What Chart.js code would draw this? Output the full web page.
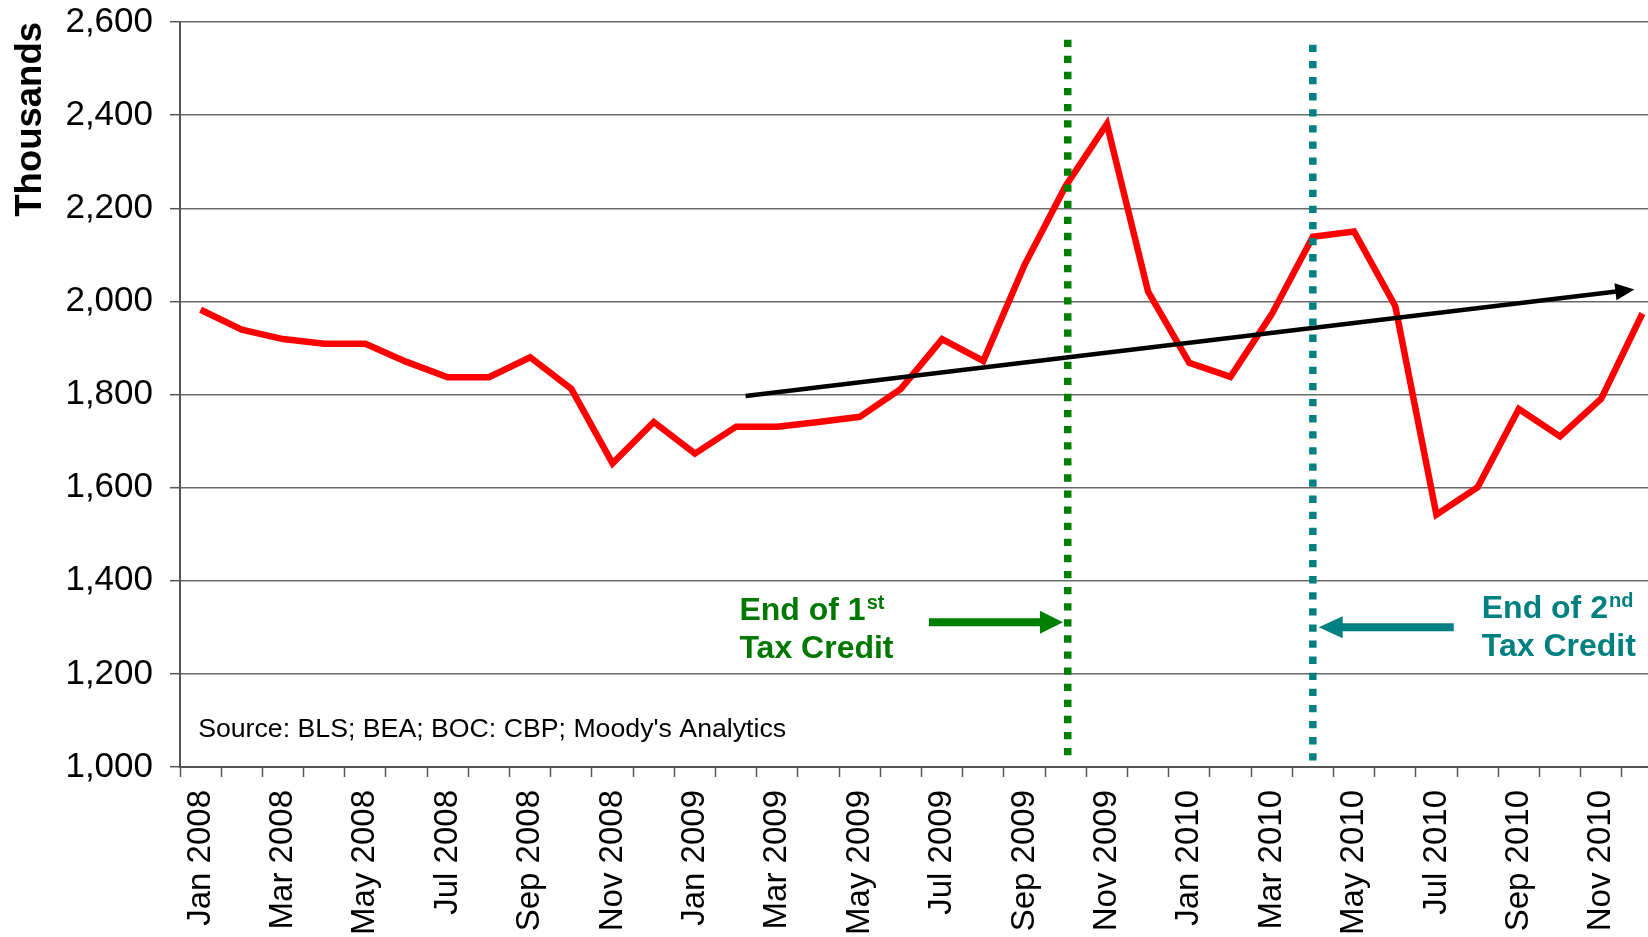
<!DOCTYPE html>
<html>
<head>
<meta charset="utf-8">
<title>Home sales, thousands</title>
<script src="https://cdn.jsdelivr.net/npm/chart.js@4.4.0/dist/chart.umd.min.js"></script>
<style>
  html, body { margin: 0; padding: 0; background: #fff; overflow: hidden; }
  #wrap { position: relative; width: 1664px; height: 937px; }
</style>
</head>
<body>
<div id="wrap"><canvas id="myChart"></canvas></div>
<script>
const months = [
  'Jan 2008', 'Feb 2008', 'Mar 2008', 'Apr 2008', 'May 2008', 'Jun 2008',
  'Jul 2008', 'Aug 2008', 'Sep 2008', 'Oct 2008', 'Nov 2008', 'Dec 2008',
  'Jan 2009', 'Feb 2009', 'Mar 2009', 'Apr 2009', 'May 2009', 'Jun 2009',
  'Jul 2009', 'Aug 2009', 'Sep 2009', 'Oct 2009', 'Nov 2009', 'Dec 2009',
  'Jan 2010', 'Feb 2010', 'Mar 2010', 'Apr 2010', 'May 2010', 'Jun 2010',
  'Jul 2010', 'Aug 2010', 'Sep 2010', 'Oct 2010', 'Nov 2010', 'Dec 2010',
];

// thousands
const homeSales = [
  1982, 1939, 1919, 1909, 1909, 1870, 1837, 1837, 1880, 1812, 1652, 1741,
  1673, 1731, 1731, 1741, 1752, 1812, 1919, 1872, 2078, 2248, 2381, 2021,
  1868, 1838, 1972, 2139, 2150, 1990, 1542, 1601, 1769, 1710, 1791, 1974,
];

const yMin = 1000;
const yMax = 2600;
const yStep = 200;

// x is a month index (0 = Jan 2008), y in thousands
const trendLine = [{ x: 13.23, y: 1797 }, { x: 34.37, y: 2021 }];
const firstCreditEnd = [{ x: 21.05, y: 1025 }, { x: 21.05, y: 2570 }];
const secondCreditEnd = [{ x: 27, y: 1014 }, { x: 27, y: 2563 }];
const firstArrow = [{ x: 17.68, y: 1311 }, { x: 20.4, y: 1311 }];
const secondArrow = [{ x: 30.42, y: 1300 }, { x: 27.7, y: 1300 }];

const notes = [
  { lines: ['End of 1', 'Tax Credit'], sup: 'st', x: 13.08, y: 1315, color: '#007800' },
  { lines: ['End of 2', 'Tax Credit'], sup: 'nd', x: 31.1, y: 1319, color: '#008080' },
];
const source = { text: "Source: BLS; BEA; BOC: CBP; Moody's Analytics", x: -0.06, y: 1064 };

const FONT = '"Liberation Sans", Arial, Helvetica, sans-serif';

const decorations = {
  id: 'decorations',
  afterDatasetsDraw(chart) {
    const ctx = chart.ctx;
    const xs = chart.scales.x2;
    const ys = chart.scales.y;

    // arrow heads on the end of the flagged lines
    chart.data.datasets.forEach((ds, i) => {
      if (!ds.head) return;
      const pts = chart.getDatasetMeta(i).data;
      const a = pts[pts.length - 2];
      const b = pts[pts.length - 1];
      const ang = Math.atan2(b.y - a.y, b.x - a.x);
      ctx.save();
      ctx.translate(b.x, b.y);
      ctx.rotate(ang);
      ctx.beginPath();
      ctx.moveTo(ds.head.length, 0);
      ctx.lineTo(-1, -ds.head.width / 2);
      ctx.lineTo(-1, ds.head.width / 2);
      ctx.closePath();
      ctx.fillStyle = ds.borderColor;
      ctx.fill();
      ctx.restore();
    });

    ctx.save();
    ctx.textAlign = 'left';
    ctx.textBaseline = 'alphabetic';
    notes.forEach(n => {
      const px = xs.getPixelForValue(n.x);
      const py = ys.getPixelForValue(n.y);
      ctx.fillStyle = n.color;
      ctx.font = 'bold 32px ' + FONT;
      ctx.fillText(n.lines[0], px, py);
      const w = ctx.measureText(n.lines[0]).width;
      ctx.fillText(n.lines[1], px, py + 38);
      ctx.font = 'bold 20px ' + FONT;
      ctx.fillText(n.sup, px + w + 1, py - 11);
    });

    ctx.fillStyle = '#000';
    ctx.font = '26.7px ' + FONT;
    ctx.fillText(source.text, xs.getPixelForValue(source.x), ys.getPixelForValue(source.y));
    ctx.restore();
  },
};

const ctx = document.getElementById('myChart');

new Chart(ctx, {
  type: 'line',
  data: {
    labels: months,
    datasets: [
      {
        label: 'Home sales',
        data: homeSales,
        borderColor: '#ff0000',
        borderWidth: 6.5,
        pointRadius: 0,
        tension: 0,
        order: 5,
      },
      {
        label: 'Trend',
        data: trendLine,
        xAxisID: 'x2',
        borderColor: '#000000',
        borderWidth: 4.5,
        pointRadius: 0,
        order: 4,
        head: { length: 18, width: 17 },
      },
      {
        label: 'End of 1st tax credit',
        data: firstCreditEnd,
        xAxisID: 'x2',
        borderColor: '#008000',
        borderWidth: 7.5,
        borderDash: [7.3, 8.8],
        pointRadius: 0,
        order: 2,
      },
      {
        label: 'End of 2nd tax credit',
        data: secondCreditEnd,
        xAxisID: 'x2',
        borderColor: '#008080',
        borderWidth: 7.5,
        borderDash: [7.3, 8.8],
        pointRadius: 0,
        order: 2,
      },
      {
        label: 'arrow 1',
        data: firstArrow,
        xAxisID: 'x2',
        borderColor: '#008000',
        borderWidth: 8,
        pointRadius: 0,
        order: 1,
        head: { length: 22, width: 23 },
      },
      {
        label: 'arrow 2',
        data: secondArrow,
        xAxisID: 'x2',
        borderColor: '#008080',
        borderWidth: 8,
        pointRadius: 0,
        order: 1,
        head: { length: 23, width: 22 },
      },
    ],
  },
  options: {
    responsive: true,
    maintainAspectRatio: false,
    animation: false,
    layout: { padding: { top: 22, right: 1, left: 0, bottom: 0 } },
    plugins: {
      legend: { display: false },
      tooltip: { enabled: false },
    },
    scales: {
      x: {
        type: 'category',
        offset: true,
        grid: {
          offset: true,
          drawOnChartArea: false,
          tickLength: 10,
          tickColor: '#555',
          tickWidth: 1.5,
        },
        border: { color: '#555', width: 2 },
        ticks: {
          autoSkip: false,
          minRotation: 90,
          maxRotation: 90,
          padding: 13,
          color: '#000',
          font: { family: FONT, size: 33 },
          callback: function (value, index) {
            return index % 2 === 0 ? this.getLabelForValue(value) : '';
          },
        },
        afterFit: (scale) => {
          scale.height = 170;
          scale.paddingLeft = 0;
          scale.paddingRight = 0;
        },
      },
      x2: {
        type: 'linear',
        display: false,
        min: -0.5,
        max: months.length - 0.5,
      },
      y: {
        min: yMin,
        max: yMax,
        grid: {
          color: '#6a6a6a',
          lineWidth: 1.4,
          tickLength: 10,
          tickColor: '#555',
          tickWidth: 1.5,
        },
        border: { color: '#555', width: 2 },
        ticks: {
          stepSize: yStep,
          padding: 17,
          color: '#000',
          font: { family: FONT, size: 35 },
          callback: (v) => v.toLocaleString('en-US'),
        },
        title: {
          display: true,
          text: 'Thousands',
          align: 'end',
          color: '#000',
          font: { family: FONT, size: 36.5, weight: 'bold' },
          padding: { top: 9, bottom: 0 },
        },
        afterFit: (scale) => {
          scale.width = 180;
          scale.paddingTop = 0;
          scale.paddingBottom = 0;
        },
      },
    },
  },
  plugins: [decorations],
});
</script>
</body>
</html>
